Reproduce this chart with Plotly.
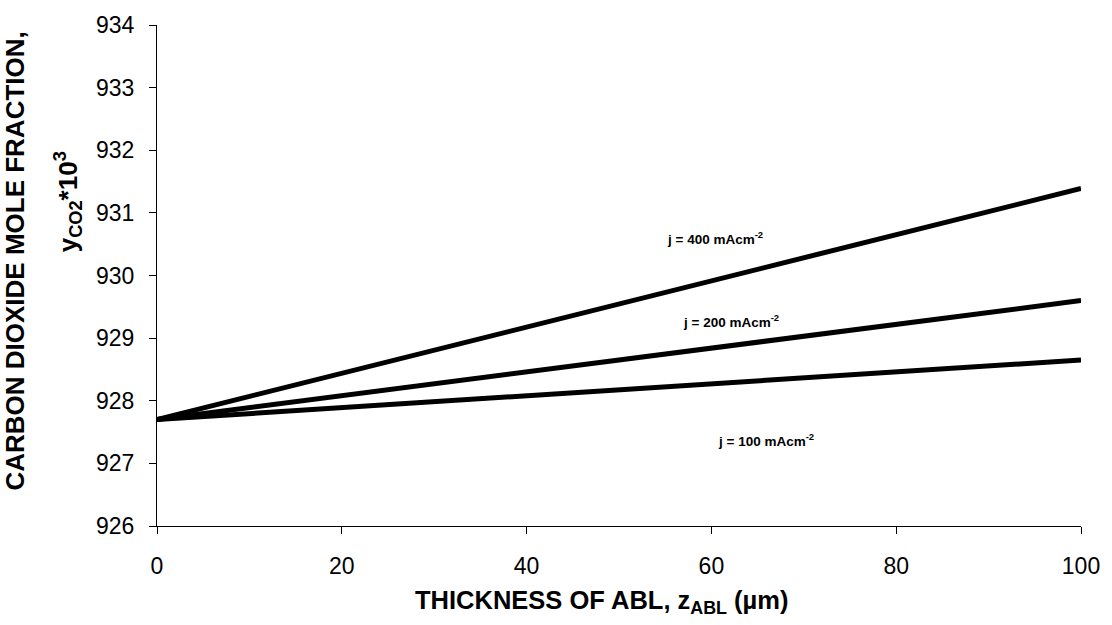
import plotly.graph_objects as go

# ABL thickness (µm) and CO2 mole fraction (*10^3) for three current densities
thickness = [0, 100]
series_names = ["j = 400 mAcm<sup>-2</sup>", "j = 200 mAcm<sup>-2</sup>", "j = 100 mAcm<sup>-2</sup>"]
y_j400 = [927.7, 931.39]
y_j200 = [927.7, 929.60]
y_j100 = [927.7, 928.65]

# label anchor points (data coordinates)
label_x = [60.4, 62.1, 65.9]
label_y = [930.6, 929.27, 927.38]

x_ticks = [0, 20, 40, 60, 80, 100]
y_ticks = [926, 927, 928, 929, 930, 931, 932, 933, 934]

FONT = "Liberation Sans, Arial, sans-serif"

# plot area in pixels
W, H = 1112, 625
L, R, T, B = 157, 30, 17, 99
PW, PH = W - L - R, H - T - B


def px_x(p):
    return (p - L) / PW


def px_y(p):
    return (H - B - p) / PH


fig = go.Figure()
for ys in (y_j400, y_j200, y_j100):
    fig.add_trace(go.Scatter(
        x=thickness, y=ys, mode="lines",
        line=dict(color="black", width=5),
        showlegend=False, hoverinfo="skip",
    ))

for name, lx, ly in zip(series_names, label_x, label_y):
    fig.add_annotation(
        x=lx, y=ly, xref="x", yref="y", text="<b>" + name + "</b>",
        showarrow=False, font=dict(family=FONT, size=13.5, color="black"),
    )

# two-line rotated y-axis title
fig.add_annotation(
    x=px_x(15), y=px_y(22), xref="paper", yref="paper", xanchor="center", yanchor="top",
    text="<b>CARBON DIOXIDE MOLE FRACTION,</b>", textangle=-90, showarrow=False,
    font=dict(family=FONT, size=26, color="black"),
)
fig.add_annotation(
    x=px_x(68), y=px_y(197), xref="paper", yref="paper", xanchor="center", yanchor="middle",
    text="<b>y<sub>CO2</sub>*10<sup>3</sup></b>", textangle=-90, showarrow=False,
    font=dict(family=FONT, size=26, color="black"),
)

# x-axis title
fig.add_annotation(
    x=px_x(413), y=px_y(603), xref="paper", yref="paper", xanchor="left", yanchor="middle",
    text="<b>THICKNESS OF ABL, z<sub>ABL</sub> (µm)</b>", showarrow=False,
    font=dict(family=FONT, size=25.5, color="black"),
)

fig.update_layout(
    width=W, height=H,
    margin=dict(l=L, r=R, t=T, b=B),
    paper_bgcolor="white", plot_bgcolor="white",
    font=dict(family=FONT, size=23, color="black"),
    xaxis=dict(
        range=[0, 100], tickvals=x_ticks, showgrid=False, zeroline=False,
        showline=True, linecolor="black", linewidth=1,
        ticks="outside", ticklen=7, tickcolor="black", ticklabelstandoff=12,
        tickfont=dict(family=FONT, size=23, color="black"),
    ),
    yaxis=dict(
        range=[926, 934], tickvals=y_ticks, showgrid=False, zeroline=False,
        showline=True, linecolor="black", linewidth=1,
        ticks="outside", ticklen=7, tickcolor="black", ticklabelstandoff=10,
        tickfont=dict(family=FONT, size=23, color="black"),
    ),
)

fig.write_html("out.html")
